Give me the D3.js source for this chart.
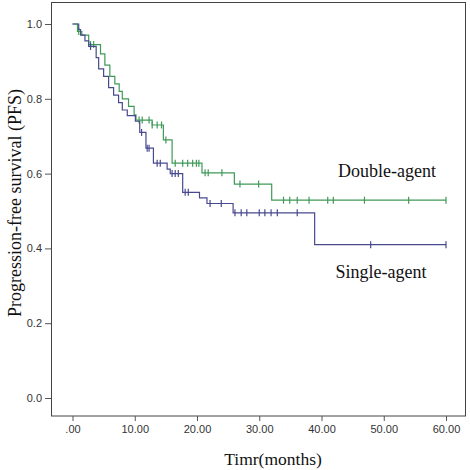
<!DOCTYPE html>
<html><head><meta charset="utf-8">
<script src="https://cdn.jsdelivr.net/npm/d3@7"></script>
<style>html,body{margin:0;padding:0;background:#fff;}svg{display:block;}</style>
</head><body>
<svg id="chart" width="470" height="470"></svg>
<script>
// Kaplan–Meier steps: [time (months), survival after the drop]
const singleSteps = [[0,1.0],[1.0,0.985],[1.3,0.97],[2.0,0.955],[2.6,0.94],[3.8,0.91],[4.2,0.88],[5.0,0.86],[5.8,0.83],[6.6,0.81],[7.4,0.79],[8.0,0.77],[8.8,0.755],[10.1,0.74],[10.8,0.71],[11.8,0.668],[13.0,0.628],[15.2,0.612],[15.7,0.60],[17.7,0.55],[20.4,0.535],[21.6,0.52],[25.8,0.495],[38.9,0.41]];
const singleEnd = 60;
const singleCensor = [2.9,11.1,12.0,12.3,13.6,14.1,16.0,16.5,17.0,18.1,18.6,22.1,23.9,26.1,27.1,28.0,30.0,30.9,31.9,32.9,36.1,47.9,60];
const doubleSteps = [[0,1.0],[0.8,0.98],[1.5,0.97],[2.6,0.945],[4.5,0.92],[5.2,0.89],[6.0,0.86],[6.8,0.84],[7.5,0.82],[8.0,0.80],[9.0,0.78],[9.9,0.757],[10.2,0.743],[12.8,0.73],[14.6,0.69],[16.0,0.628],[20.8,0.602],[26.0,0.572],[32.0,0.529]];
const doubleEnd = 60;
const doubleCensor = [1.0,2.9,3.4,10.7,11.2,12.3,12.8,13.6,14.3,15.0,16.5,17.7,18.5,19.3,19.9,20.3,21.3,21.8,24.0,26.9,29.9,33.9,34.9,36.1,38.0,41.0,41.9,46.9,54.0,60];
const xTicks = [0,10,20,30,40,50,60];
const yTicks = [0,0.2,0.4,0.6,0.8,1.0];
const seriesNames = ["Double-agent","Single-agent"];

const svg = d3.select("#chart");
const x = d3.scaleLinear().domain([0,60]).range([72.5,446]);
const y = d3.scaleLinear().domain([0,1]).range([398,24]);

// frame
svg.append("rect").attr("x",51.5).attr("y",2.5).attr("width",414).attr("height",413.5)
  .attr("fill","none").attr("stroke","#444").attr("stroke-width",1);

// axes
const xAxis = d3.axisBottom(x).tickValues(xTicks).tickSize(5).tickPadding(4)
  .tickFormat(d => d===0 ? ".00" : d3.format(".2f")(d));
const gx = svg.append("g").attr("transform","translate(0,416)").call(xAxis);
gx.select(".domain").remove();
gx.selectAll("line").attr("stroke","#555");
gx.selectAll("text").attr("fill","#333").style("font-family","'Liberation Sans',Arial,sans-serif").style("font-size","11px");

const yAxis = d3.axisLeft(y).tickValues(yTicks).tickSize(6).tickPadding(3).tickFormat(d3.format(".1f"));
const gy = svg.append("g").attr("transform","translate(51,0)").call(yAxis);
gy.select(".domain").remove();
gy.selectAll("line").attr("stroke","#555");
gy.selectAll("text").attr("fill","#333").style("font-family","'Liberation Sans',Arial,sans-serif").style("font-size","11px");

function stepPath(steps, end){
  const pts = [];
  steps.forEach((s,i)=>{
    if(i>0) pts.push([s[0], steps[i-1][1]]);
    pts.push([s[0], s[1]]);
  });
  pts.push([end, steps[steps.length-1][1]]);
  return d3.line().x(d=>x(d[0])).y(d=>y(d[1]))(pts);
}
function survAt(steps,t){
  let v = 1;
  for(const s of steps){ if(s[0] <= t) v = s[1]; }
  return v;
}
function drawSeries(steps,end,censor,color){
  svg.append("path").attr("d",stepPath(steps,end)).attr("fill","none")
    .attr("stroke",color).attr("stroke-width",1.2);
  svg.append("g").selectAll("line").data(censor).join("line")
    .attr("x1",d=>x(d)).attr("x2",d=>x(d))
    .attr("y1",d=>y(survAt(steps,d))-3.5).attr("y2",d=>y(survAt(steps,d))+3.5)
    .attr("stroke",color).attr("stroke-width",1.2);
}
drawSeries(doubleSteps,doubleEnd,doubleCensor,"#3f9a58");
drawSeries(singleSteps,singleEnd,singleCensor,"#484a8e");

// labels
const serif = "'Liberation Serif','Times New Roman',serif";
svg.append("text").attr("x",387).attr("y",177).attr("text-anchor","middle")
  .style("font-family",serif).style("font-size","18px").attr("fill","#111").text(seriesNames[0]);
svg.append("text").attr("x",381).attr("y",278).attr("text-anchor","middle")
  .style("font-family",serif).style("font-size","18px").attr("fill","#111").text(seriesNames[1]);
svg.append("text").attr("x",273).attr("y",465).attr("text-anchor","middle")
  .style("font-family",serif).style("font-size","17.5px").attr("fill","#111").text("Timr(months)");
svg.append("text").attr("transform","translate(21,203) rotate(-90)").attr("text-anchor","middle")
  .style("font-family",serif).style("font-size","18px").attr("fill","#111").text("Progression-free survival (PFS)");
</script>
</body></html>
